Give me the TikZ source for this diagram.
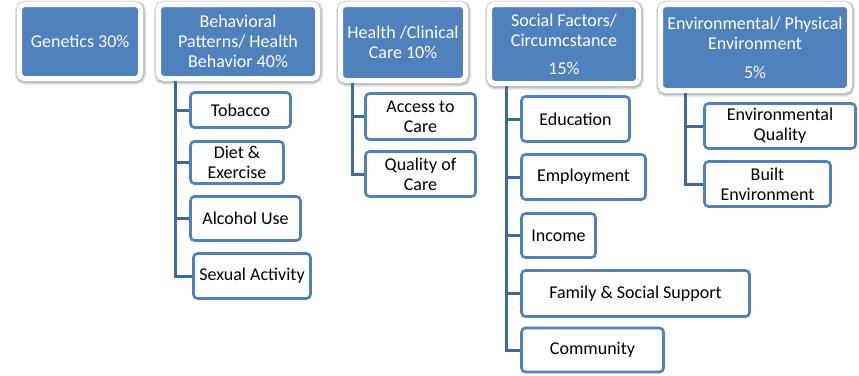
\documentclass[tikz,border=0pt]{standalone}
\usepackage{fontspec}
\setmainfont{Carlito}
\usetikzlibrary{shadows,calc}
\definecolor{hblue}{HTML}{4F81BD}
\definecolor{lblue}{HTML}{3E6A9C}
\tikzset{
 head/.style={draw=white, line width=5pt, fill=hblue, rounded corners=5pt, text=white, align=center, inner sep=0pt,
   font=\fontsize{18}{20}\selectfont,
   general shadow={shadow xshift=0.5pt, shadow yshift=-1pt, opacity=0.12, fill=black, draw=black, line width=10pt},
   general shadow={shadow xshift=0.5pt, shadow yshift=-1pt, opacity=0.15, fill=black, draw=black, line width=7pt}},
 item/.style={draw=hblue, line width=2.6pt, fill=white, rounded corners=4pt, align=center, inner sep=0pt,
   font=\fontsize{18}{20}\selectfont, text=black},
 conn/.style={draw=lblue, line width=3pt},
}
\begin{document}
\begin{tikzpicture}[x=1pt,y=-1pt]
\useasboundingbox (0,0) rectangle (859,375);
% headers
\node[head, minimum width=121pt, minimum height=74pt] (gen) at (80,41.5) {Genetics 30\%};
\node[head, minimum width=159pt, minimum height=74pt] (beh) at (238,41.5) {Behavioral\\Patterns/ Health\\Behavior 40\%};
\node[head, minimum width=125pt, minimum height=76pt] (hea) at (403,42.5) {Health /Clinical\\Care 10\%};
\node[head, minimum width=149pt, minimum height=79pt] (soc) at (564,44) {Social Factors/\\Circumcstance\\[8pt]15\%};
\node[head, minimum width=189pt, minimum height=86pt] (env) at (755,47.5) {Environmental/ Physical\\Environment\\[9pt]5\%};
% items
\node[item, minimum width=100pt, minimum height=35pt] (tob) at (240.5,110) {Tobacco};
\node[item, minimum width=93pt, minimum height=42pt] (diet) at (237,162.5) {Diet \&\\Exercise};
\node[item, minimum width=110pt, minimum height=44pt] (alc) at (245.5,218.5) {Alcohol Use};
\node[item, minimum width=117pt, minimum height=45pt] (sex) at (252,276) {Sexual Activity};
\node[item, minimum width=110pt, minimum height=46pt] (acc) at (420.5,116.5) {Access to\\Care};
\node[item, minimum width=110pt, minimum height=45pt] (qua) at (420.5,174) {Quality of\\Care};
\node[item, minimum width=108pt, minimum height=45pt] (edu) at (575.5,119) {Education};
\node[item, minimum width=124pt, minimum height=45pt] (emp) at (583.5,177) {Employment};
\node[item, minimum width=74pt, minimum height=44pt] (inc) at (558.5,235.5) {Income};
\node[item, minimum width=228pt, minimum height=46pt] (fam) at (635.5,293.5) {Family \& Social Support};
\node[item, minimum width=142pt, minimum height=44pt] (com) at (592.5,350) {Community};
\node[item, minimum width=151pt, minimum height=45pt] (envq) at (780,126) {Environmental\\Quality};
\node[item, minimum width=126pt, minimum height=45pt] (blt) at (767.5,184) {Built\\Environment};
% trunk coordinates
\coordinate (bx) at (175,0);
\coordinate (hx) at (352,0);
\coordinate (sx) at (506,0);
\coordinate (ex) at (685,0);
% connectors
\foreach \c in {tob,diet,alc,sex} \draw[conn] (beh.south -| bx) |- (\c.west);
\foreach \c in {acc,qua} \draw[conn] (hea.south -| hx) |- (\c.west);
\foreach \c in {edu,emp,inc,fam,com} \draw[conn] (soc.south -| sx) |- (\c.west);
\foreach \c in {envq,blt} \draw[conn] (env.south -| ex) |- (\c.west);
\end{tikzpicture}
\end{document}
